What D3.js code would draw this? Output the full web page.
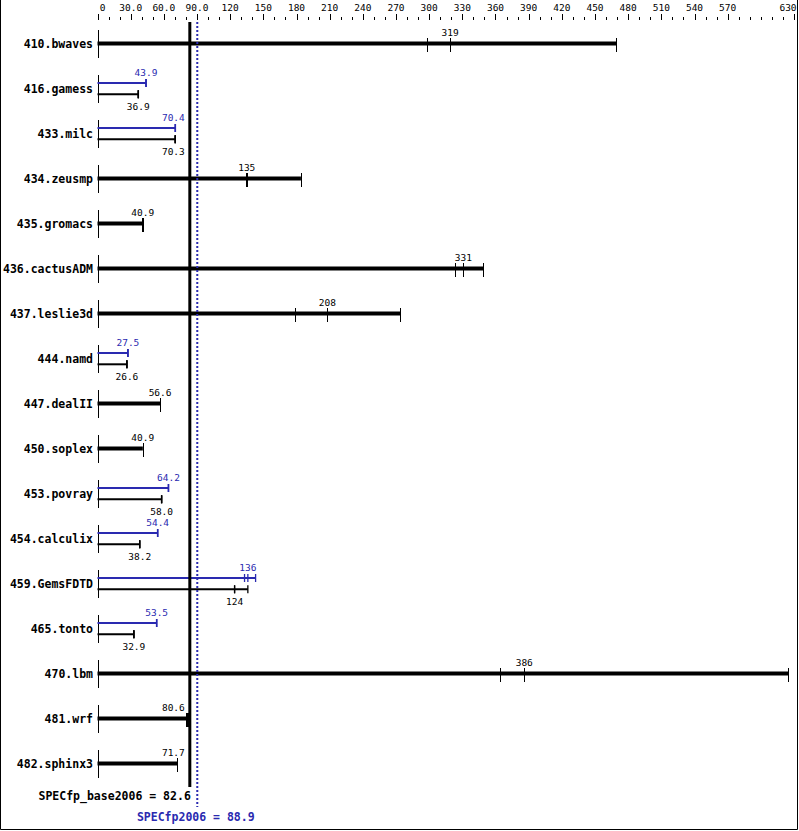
<!DOCTYPE html>
<html>
<head>
<meta charset="utf-8">
<script src="https://cdn.jsdelivr.net/npm/d3@7"></script>
<style>
  html, body { margin: 0; padding: 0; background: #fff; }
  svg { display: block; }
  text { font-family: "DejaVu Sans Mono", monospace; }
</style>
</head>
<body>
<div id="chart"></div>
<script>
// ---------- data ----------
const benchmarks = ["410.bwaves","416.gamess","433.milc","434.zeusmp","435.gromacs","436.cactusADM",
  "437.leslie3d","444.namd","447.dealII","450.soplex","453.povray","454.calculix","459.GemsFDTD",
  "465.tonto","470.lbm","481.wrf","482.sphinx3"];
const baseRuns = [
  [298, 319, 469], [36.8, 36.9, 37.0], [70.2, 70.3, 70.4], [134, 135, 184], [40.6, 40.9, 41.4],
  [323, 331, 349], [179, 208, 274], [26.5, 26.6, 26.7], [56.4, 56.6, 56.8], [40.8, 40.9, 41.0],
  [57.9, 58.0, 58.1], [38.1, 38.2, 38.3], [124, 124, 136], [32.8, 32.9, 33.0], [364, 386, 625],
  [80.4, 80.6, 82.0], [71.5, 71.7, 72.2]
];
const peakRuns = [
  null, [43.8, 43.9, 44.0], [70.3, 70.4, 70.5], null, null, null, null, [27.4, 27.5, 27.6], null, null,
  [64.1, 64.2, 64.3], [54.3, 54.4, 54.5], [133, 136, 143], [53.4, 53.5, 53.6], null, null, null
];
const baseMean = 82.6;
const peakMean = 88.9;
const baseMeanLabel = "SPECfp_base2006 = 82.6";
const peakMeanLabel = "SPECfp2006 = 88.9";
const axisMax = 630;
const minorTicks = d3.range(0, 630, 10);
const majorTicks = [0, 30, 60, 90, 120, 150, 180, 210, 240, 270, 300, 330, 360, 390, 420, 450, 480, 510, 540, 570, 630];
const majorLabels = ["0", "30.0", "60.0", "90.0", "120", "150", "180", "210", "240", "270", "300", "330", "360", "390", "420", "450", "480", "510", "540", "570", "630"];

// ---------- layout ----------
const W = 799, H = 831;
const BLUE = "#2a2ab0";
const svg = d3.select("#chart").append("svg").attr("width", W).attr("height", H);

const x = d3.scaleLinear().domain([0, axisMax]).range([97.5, 794]);
const y = d3.scalePoint().domain(benchmarks).range([43, 763]);
const fmt = d3.format(".3r");

// border (left, right, bottom)
svg.append("path")
  .attr("d", `M0.5,0 V${H - 1.5} H${W - 1.5} V0`)
  .attr("fill", "none").attr("stroke", "#000").attr("stroke-width", 1);

// top axis
const ax = svg.append("g");
ax.selectAll("line.minor").data(minorTicks).join("line")
  .attr("x1", d => Math.round(x(d)) + 0.5).attr("x2", d => Math.round(x(d)) + 0.5)
  .attr("y1", 17).attr("y2", 20).attr("stroke", "#000");
ax.selectAll("line.major").data(majorTicks).join("line")
  .attr("x1", d => Math.round(x(d)) + 0.5).attr("x2", d => Math.round(x(d)) + 0.5)
  .attr("y1", 14).attr("y2", 20).attr("stroke", "#000");
ax.selectAll("text").data(majorTicks).join("text")
  .attr("x", (d, i) => x(d) + (i === 0 ? 5 : 0) - (i === majorTicks.length - 1 ? 6 : 0))
  .attr("y", 10.5)
  .attr("text-anchor", "middle")
  .attr("font-size", 9.5)
  .text((d, i) => majorLabels[i]);

// row groups
const rows = svg.append("g").selectAll("g").data(benchmarks).join("g")
  .attr("transform", d => `translate(0,${y(d)})`);

rows.append("text")
  .attr("x", 93).attr("y", 4.5)
  .attr("text-anchor", "end")
  .attr("font-size", 11.5).attr("font-weight", "bold")
  .text(d => d);

rows.append("line")
  .attr("x1", Math.round(x(0)) + 0.5).attr("x2", Math.round(x(0)) + 0.5)
  .attr("y1", -13).attr("y2", 15).attr("stroke", "#000");

const xBase = x(baseMean);
function labelPos(sel, med) {
  const cx = x(med);
  const halfW = fmt(med).length * 5.72 / 2;
  if (cx < xBase + 4 && cx + halfW > xBase - 4) {
    sel.attr("x", xBase - 4).attr("text-anchor", "end");
  } else {
    sel.attr("x", cx).attr("text-anchor", "middle");
  }
}

rows.each(function(name, i) {
  const g = d3.select(this);
  const base = baseRuns[i];
  const peak = peakRuns[i];
  const bMed = d3.median(base), bMax = d3.max(base);
  if (!peak) {
    g.append("line").attr("x1", x(0)).attr("x2", x(bMax))
      .attr("y1", 0.5).attr("y2", 0.5).attr("stroke", "#000").attr("stroke-width", 4);
    g.selectAll("line.run").data(base).join("line").attr("class", "run")
      .attr("x1", d => Math.round(x(d)) + 0.5).attr("x2", d => Math.round(x(d)) + 0.5)
      .attr("y1", -5).attr("y2", 9).attr("stroke", "#000").attr("stroke-width", 1);
    const t = g.append("text").attr("y", -7).attr("font-size", 9.5).text(fmt(bMed));
    labelPos(t, bMed);
  } else {
    const pMed = d3.median(peak), pMax = d3.max(peak);
    g.append("line").attr("x1", x(0)).attr("x2", x(pMax))
      .attr("y1", -5).attr("y2", -5).attr("stroke", BLUE).attr("stroke-width", 2);
    g.selectAll("line.prun").data(peak).join("line").attr("class", "prun")
      .attr("x1", d => x(d)).attr("x2", d => x(d))
      .attr("y1", -9).attr("y2", -1).attr("stroke", BLUE).attr("stroke-width", 1.3);
    const tp = g.append("text").attr("y", -12.5).attr("font-size", 9.5).attr("fill", BLUE).text(fmt(pMed));
    labelPos(tp, pMed);
    g.append("line").attr("x1", x(0)).attr("x2", x(bMax))
      .attr("y1", 6.3).attr("y2", 6.3).attr("stroke", "#000").attr("stroke-width", 2);
    g.selectAll("line.brun").data(base).join("line").attr("class", "brun")
      .attr("x1", d => x(d)).attr("x2", d => x(d))
      .attr("y1", 2.3).attr("y2", 10.3).attr("stroke", "#000").attr("stroke-width", 1.3);
    const tb = g.append("text").attr("y", 21.5).attr("font-size", 9.5).text(fmt(bMed));
    labelPos(tb, bMed);
  }
});

// mean lines
svg.append("line")
  .attr("x1", x(baseMean) + 1).attr("x2", x(baseMean) + 1)
  .attr("y1", 22).attr("y2", 787)
  .attr("stroke", "#000").attr("stroke-width", 3);
svg.append("line")
  .attr("x1", x(peakMean) + 1.5).attr("x2", x(peakMean) + 1.5)
  .attr("y1", 22).attr("y2", 807)
  .attr("stroke", BLUE).attr("stroke-width", 2).attr("stroke-dasharray", "2,2");

svg.append("text")
  .attr("x", x(baseMean) + 2).attr("y", 799.5)
  .attr("text-anchor", "end").attr("font-size", 11.5).attr("font-weight", "bold")
  .text(baseMeanLabel);
svg.append("text")
  .attr("x", x(peakMean)).attr("y", 821)
  .attr("text-anchor", "middle").attr("font-size", 11.5).attr("font-weight", "bold")
  .attr("fill", BLUE)
  .text(peakMeanLabel);
</script>
</body>
</html>
